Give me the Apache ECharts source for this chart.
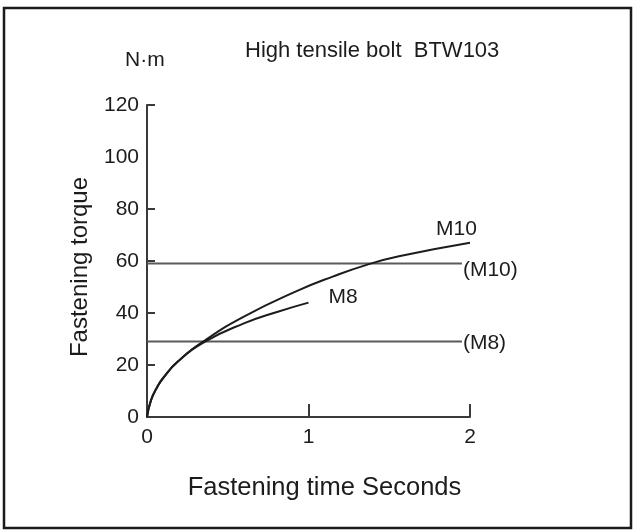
<!DOCTYPE html>
<html>
<head>
<meta charset="utf-8">
<script src="https://cdn.jsdelivr.net/npm/echarts@6/dist/echarts.min.js"></script>
<style>
    html, body { margin: 0; padding: 0; background: #fff; }
    #main { width: 635px; height: 532px; }
</style>
</head>
<body>
<div id="main"></div>
<script>
// values
let timeTicks = [0, 1, 2]
let torqueTicks = [0, 20, 40, 60, 80, 100, 120]
let m10Curve = [[0, 0], [0.025, 6.5], [0.065, 11.7], [0.1, 15], [0.19, 21.3], [0.36, 29.5], [0.6, 38.6],
    [0.93, 48.5], [1.15, 54], [1.36, 58.5], [1.56, 61.8], [2, 67]]
let m8Curve = [[0, 0], [0.025, 6.5], [0.065, 11.7], [0.1, 15], [0.19, 21.3], [0.36, 29], [0.6, 36],
    [0.8, 40.3], [1, 44]]
let m10Limit = [[0, 59], [1.95, 59]]
let m8Limit = [[0, 29], [1.95, 29]]

let font = 'Liberation Sans, Arial, sans-serif'
let myChart = echarts.init(document.getElementById('main'))

let curveStyle = { color: '#1c1c1c', width: 2 }
let limitStyle = { color: '#5a5a5a', width: 2 }

let option = {
    animation: false,
    backgroundColor: '#fff',
    textStyle: { fontFamily: font, color: '#1c1c1c' },
    grid: { left: 147, right: 165, top: 105, bottom: 115 },
    xAxis: {
        type: 'value',
        min: 0, max: 2, interval: 1,
        name: 'Fastening time Seconds',
        nameLocation: 'middle',
        nameGap: 58,
        nameTextStyle: { fontSize: 25.5, color: '#1c1c1c', padding: [0, 0, 0, 32] },
        axisLine: { lineStyle: { color: '#3a3a3a', width: 2 } },
        axisTick: { inside: true, length: 13, customValues: [1, 2], lineStyle: { color: '#3a3a3a', width: 2 } },
        axisLabel: { fontSize: 21, color: '#1c1c1c', margin: 10, customValues: timeTicks },
        splitLine: { show: false }
    },
    yAxis: {
        type: 'value',
        min: 0, max: 120, interval: 20,
        name: 'Fastening torque',
        nameLocation: 'middle',
        nameRotate: 90,
        nameGap: 55,
        nameTextStyle: { fontSize: 24, color: '#1c1c1c', padding: [0, 12, 0, 0] },
        axisLine: { lineStyle: { color: '#3a3a3a', width: 2 } },
        axisTick: { inside: true, length: 8, customValues: [20, 40, 60, 80, 120], lineStyle: { color: '#3a3a3a', width: 2 } },
        axisLabel: { fontSize: 21, color: '#1c1c1c', margin: 8, customValues: torqueTicks },
        splitLine: { show: false }
    },
    graphic: [
        {
            type: 'rect', silent: true,
            shape: { x: 4, y: 8, width: 627, height: 520 },
            style: { fill: 'none', stroke: '#1a1a1a', lineWidth: 2.5 }
        },
        {
            type: 'text', left: 245, top: 40,
            style: { text: 'High tensile bolt  BTW103', font: '22px ' + font, fill: '#1c1c1c' }
        },
        {
            type: 'text', left: 125, top: 50,
            style: { text: 'N·m', font: '21px ' + font, fill: '#1c1c1c' }
        }
    ],
    series: [
        {
            name: '(M10)', type: 'line', data: m10Limit, symbol: 'none',
            lineStyle: limitStyle,
            endLabel: { show: true, formatter: '(M10)', fontSize: 21, color: '#1c1c1c', distance: 1, offset: [0, 7] }
        },
        {
            name: '(M8)', type: 'line', data: m8Limit, symbol: 'none',
            lineStyle: limitStyle,
            endLabel: { show: true, formatter: '(M8)', fontSize: 21, color: '#1c1c1c', distance: 1, offset: [0, 2] }
        },
        {
            name: 'M10', type: 'line', data: m10Curve, symbol: 'none', smooth: true,
            lineStyle: curveStyle,
            endLabel: { show: true, formatter: 'M10', fontSize: 21, color: '#1c1c1c', offset: [-42, -14] }
        },
        {
            name: 'M8', type: 'line', data: m8Curve, symbol: 'none', smooth: true,
            lineStyle: curveStyle,
            endLabel: { show: true, formatter: 'M8', fontSize: 21, color: '#1c1c1c', offset: [12, -5] }
        }
    ]
}
myChart.setOption(option)
</script>
</body>
</html>
